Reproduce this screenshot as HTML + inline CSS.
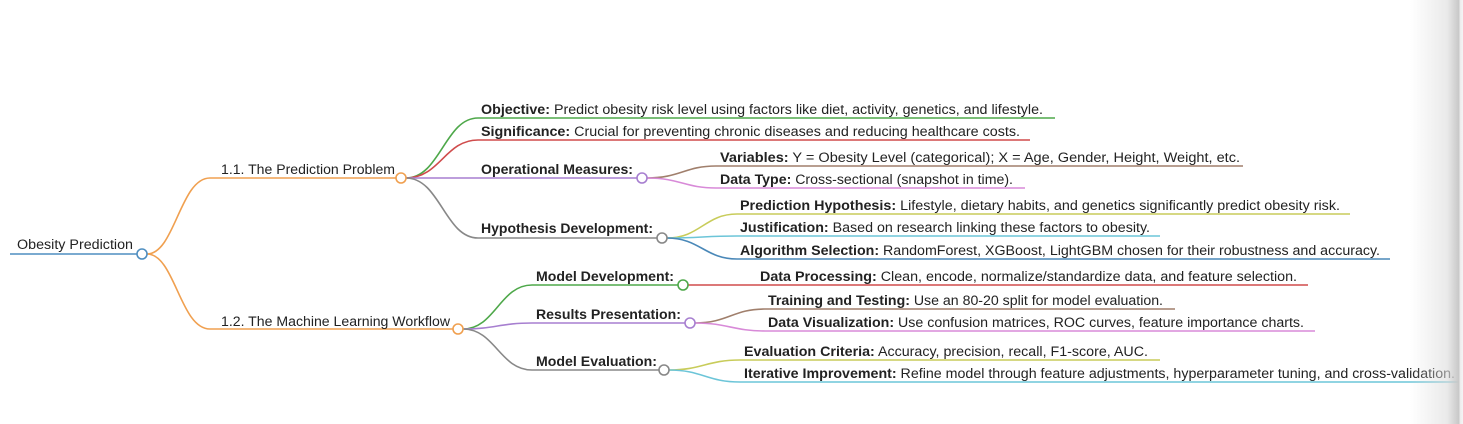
<!DOCTYPE html>
<html><head><meta charset="utf-8"><style>
html,body{margin:0;padding:0;background:#fff;}
body{width:1463px;height:424px;position:relative;overflow:hidden;}
svg{position:absolute;left:0;top:0;}
text{font-family:"Liberation Sans",Arial,sans-serif;font-size:13.5px;fill:#222;}
.b{font-weight:bold;}
.shade{position:absolute;left:1410px;top:0;width:53px;height:424px;background:linear-gradient(to right,rgba(255,255,255,0),rgba(220,220,220,0.6) 70%,#c8c8c8 92%,#eee 95%,#f4f4f4);}
</style></head><body>
<svg width="1463" height="424" viewBox="0 0 1463 424" fill="none" stroke-width="1.6">
<path d="M10 254 H137" stroke="#4f8ec0"/>
<text x="17" y="249" textLength="116" lengthAdjust="spacingAndGlyphs">Obesity Prediction</text>
<path d="M147 254 C175 254,180 178,210 178 H396" stroke="#f0a050"/>
<path d="M147 254 C175 254,180 329,210 329 H453" stroke="#f0a050"/>
<text x="221" y="174" textLength="174" lengthAdjust="spacingAndGlyphs">1.1. The Prediction Problem</text>
<text x="221" y="326" textLength="229" lengthAdjust="spacingAndGlyphs">1.2. The Machine Learning Workflow</text>
<path d="M406 178 C440 178,445 118,478 118 H1055" stroke="#4ea84a"/>
<path d="M406 178 C440 178,445 140,478 140 H1030" stroke="#d04c4c"/>
<path d="M406 178 H637" stroke="#a77fd0"/>
<path d="M406 178 C440 178,445 238,478 238 H657" stroke="#888"/>
<text x="481" y="114" textLength="562" lengthAdjust="spacingAndGlyphs"><tspan class="b">Objective:</tspan> Predict obesity risk level using factors like diet, activity, genetics, and lifestyle.</text>
<text x="481" y="136" textLength="539" lengthAdjust="spacingAndGlyphs"><tspan class="b">Significance:</tspan> Crucial for preventing chronic diseases and reducing healthcare costs.</text>
<text x="481" y="174" class="b" textLength="152" lengthAdjust="spacingAndGlyphs">Operational Measures:</text>
<text x="481" y="233" class="b" textLength="172" lengthAdjust="spacingAndGlyphs">Hypothesis Development:</text>
<path d="M647 178 C680 178,685 166,716 166 H1243" stroke="#a07f6c"/>
<path d="M647 178 C680 178,685 188,716 188 H1025" stroke="#d88ad8"/>
<text x="720" y="162" textLength="520" lengthAdjust="spacingAndGlyphs"><tspan class="b">Variables:</tspan> Y = Obesity Level (categorical); X = Age, Gender, Height, Weight, etc.</text>
<text x="720" y="184" textLength="293" lengthAdjust="spacingAndGlyphs"><tspan class="b">Data Type:</tspan> Cross-sectional (snapshot in time).</text>
<path d="M667 238 C700 238,705 214,737 214 H1350" stroke="#c8cc5a"/>
<path d="M667 238 C700 238,705 236,737 236 H1160" stroke="#6cc5d8"/>
<path d="M667 238 C700 238,705 259,737 259 H1390" stroke="#4a88b8"/>
<text x="740" y="210" textLength="600" lengthAdjust="spacingAndGlyphs"><tspan class="b">Prediction Hypothesis:</tspan> Lifestyle, dietary habits, and genetics significantly predict obesity risk.</text>
<text x="740" y="232" textLength="410" lengthAdjust="spacingAndGlyphs"><tspan class="b">Justification:</tspan> Based on research linking these factors to obesity.</text>
<text x="740" y="255" textLength="640" lengthAdjust="spacingAndGlyphs"><tspan class="b">Algorithm Selection:</tspan> RandomForest, XGBoost, LightGBM chosen for their robustness and accuracy.</text>
<path d="M463 329 C495 329,500 285,532 285 H678" stroke="#4ea84a"/>
<path d="M463 329 C495 329,500 323,532 323 H685" stroke="#a77fd0"/>
<path d="M463 329 C495 329,500 370,532 370 H659" stroke="#888"/>
<text x="536" y="281" class="b" textLength="138" lengthAdjust="spacingAndGlyphs">Model Development:</text>
<text x="536" y="319" class="b" textLength="145" lengthAdjust="spacingAndGlyphs">Results Presentation:</text>
<text x="536" y="366" class="b" textLength="121" lengthAdjust="spacingAndGlyphs">Model Evaluation:</text>
<path d="M688 285 H1308" stroke="#d04c4c"/>
<text x="760" y="281" textLength="537" lengthAdjust="spacingAndGlyphs"><tspan class="b">Data Processing:</tspan> Clean, encode, normalize/standardize data, and feature selection.</text>
<path d="M695 323 C728 323,733 309,765 309 H1175" stroke="#a07f6c"/>
<path d="M695 323 C728 323,733 331,765 331 H1315" stroke="#d88ad8"/>
<text x="768" y="305" textLength="395" lengthAdjust="spacingAndGlyphs"><tspan class="b">Training and Testing:</tspan> Use an 80-20 split for model evaluation.</text>
<text x="768" y="327" textLength="536" lengthAdjust="spacingAndGlyphs"><tspan class="b">Data Visualization:</tspan> Use confusion matrices, ROC curves, feature importance charts.</text>
<path d="M669 370 C702 370,707 360,740 360 H1160" stroke="#c8cc5a"/>
<path d="M669 370 C702 370,707 382,740 382 H1460" stroke="#6cc5d8"/>
<text x="744" y="356" textLength="404" lengthAdjust="spacingAndGlyphs"><tspan class="b">Evaluation Criteria:</tspan> Accuracy, precision, recall, F1-score, AUC.</text>
<text x="744" y="378" textLength="711" lengthAdjust="spacingAndGlyphs"><tspan class="b">Iterative Improvement:</tspan> Refine model through feature adjustments, hyperparameter tuning, and cross-validation.</text>
<g fill="#fff" stroke-width="1.6">
<circle cx="142" cy="254" r="5" stroke="#4f8ec0"/>
<circle cx="401" cy="178" r="5" stroke="#f0a050"/>
<circle cx="458" cy="329" r="5" stroke="#f0a050"/>
<circle cx="642" cy="178" r="5" stroke="#a77fd0"/>
<circle cx="662" cy="238" r="5" stroke="#888"/>
<circle cx="683" cy="285" r="5" stroke="#4ea84a"/>
<circle cx="690" cy="323" r="5" stroke="#a77fd0"/>
<circle cx="664" cy="370" r="5" stroke="#888"/>
</g>
</svg>
<div class="shade"></div>
</body></html>
